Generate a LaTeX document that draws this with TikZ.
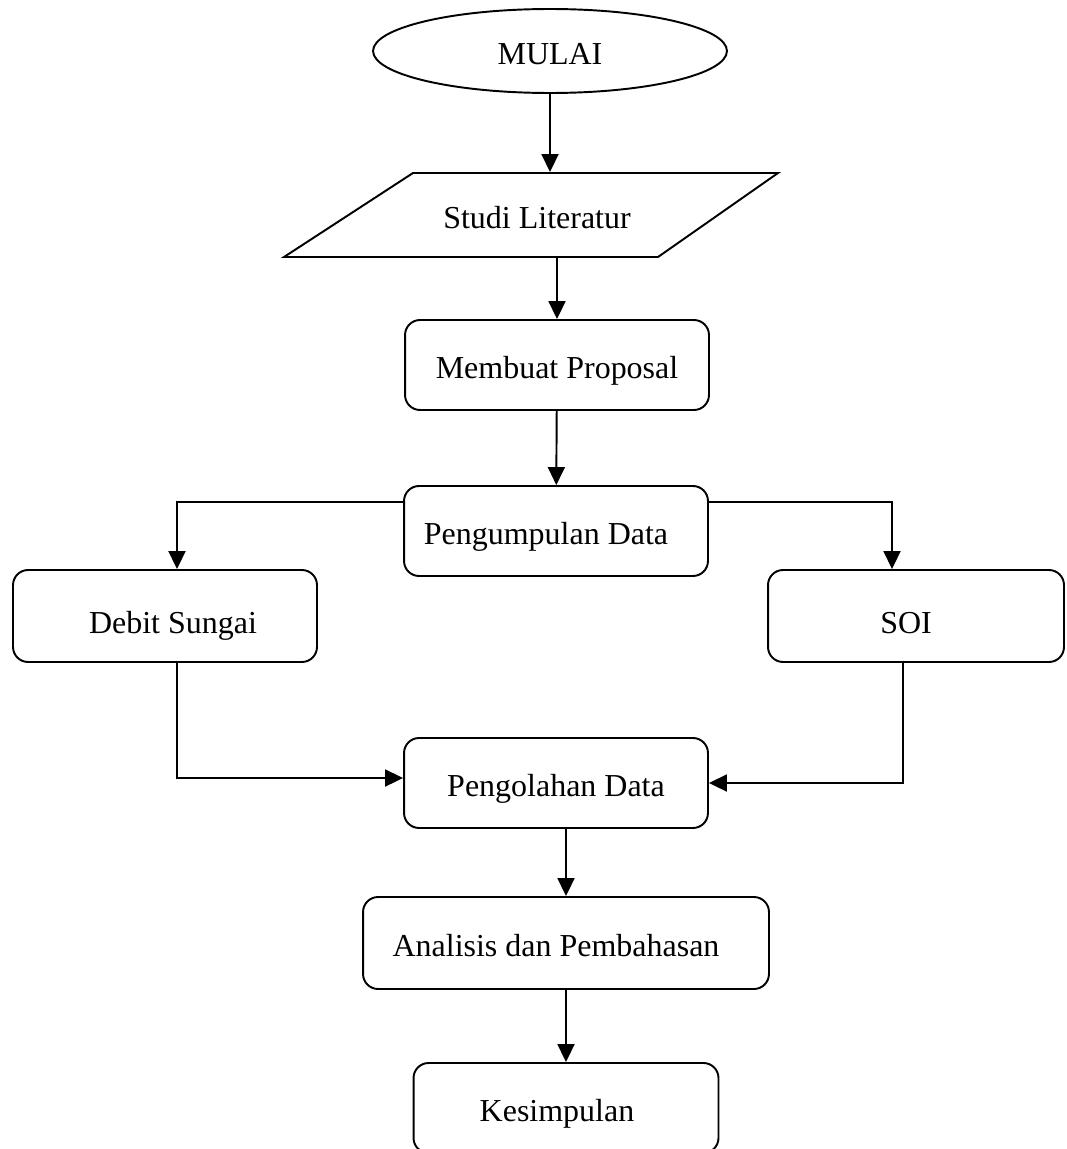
\documentclass[tikz,border=0pt]{standalone}
\usepackage{fontspec}
\setmainfont{Liberation Serif}
\usetikzlibrary{shapes.geometric,arrows.meta}

\begin{document}
\begin{tikzpicture}[x=0.02cm,y=-0.02cm,line width=1.1pt,
  font=\fontsize{18.2}{22}\selectfont,
  every node/.style={text height=15pt,text depth=0pt},
  box/.style={draw,rounded corners=0.3cm,minimum width=6.08cm,minimum height=1.8cm,inner sep=0pt},
  arr/.style={-{Triangle[length=0.36cm,width=0.34cm]}}]
\useasboundingbox (0,0) rectangle (1066,1149);
\node[draw,ellipse,minimum width=7.08cm,minimum height=1.68cm] (mulai) at (550,51) {MULAI};
\node[minimum width=7.4cm,minimum height=1.68cm,inner sep=0pt] (studi) at (531,215) {\hspace*{0.24cm}Studi Literatur};
\draw (413,173) -- (778,173) -- (658,257) -- (284,257) -- cycle;
\node[box] (proposal) at (557,365) {Membuat Proposal};
\node[box] (kumpul) at (556,531) {Pengumpulan Data\hspace*{0.4cm}};
\node[box,minimum height=1.84cm] (debit) at (165,616) {\raisebox{-0.08cm}{\hspace*{0.32cm}Debit Sungai}};
\node[box,minimum width=5.92cm,minimum height=1.84cm] (soi) at (916,616) {\raisebox{-0.08cm}{SOI\hspace*{0.4cm}}};
\node[box] (olah) at (556,783) {Pengolahan Data};
\node[box,minimum width=8.12cm,minimum height=1.84cm] (analisis) at (566,943) {Analisis dan Pembahasan\hspace*{0.4cm}};
\node[box,minimum width=6.1cm] (kesimpulan) at (566,1108) {Kesimpulan\hspace*{0.36cm}};

\draw[arr] (mulai.south) -- (mulai.south |- studi.north);
\draw[arr] (proposal.north |- studi.south) -- (proposal.north);
\draw[arr] (proposal) -- (kumpul);
\draw[arr] ([yshift=-0.34cm]kumpul.north west) -| ([xshift=0.24cm]debit.north);
\draw[arr] ([yshift=-0.34cm]kumpul.north east) -| ([xshift=-0.48cm]soi.north);
\draw[arr] ([xshift=0.24cm]debit.south) |- ([yshift=0.1cm]olah.west);
\draw[arr] ([xshift=-0.26cm]soi.south) |- (olah.east);
\draw[arr] (analisis.north |- olah.south) -- (analisis.north);
\draw[arr] (analisis) -- (kesimpulan);
\end{tikzpicture}
\end{document}
